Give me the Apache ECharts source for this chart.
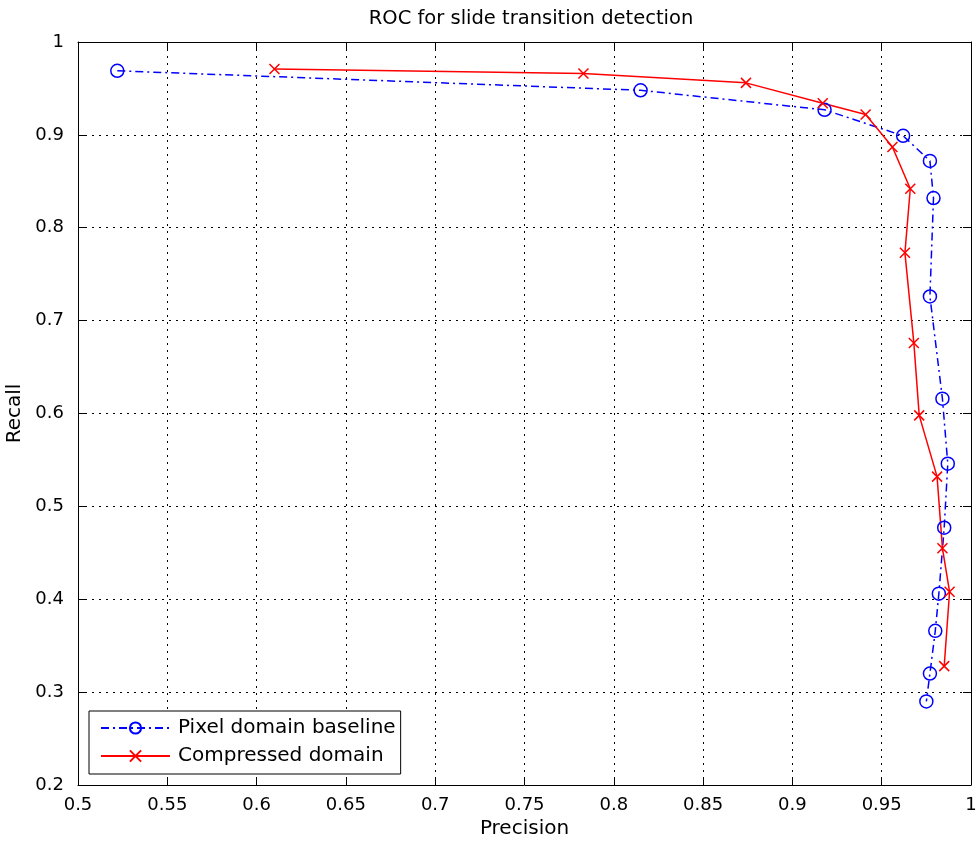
<!DOCTYPE html>
<html>
<head>
<meta charset="utf-8">
<script src="https://cdn.jsdelivr.net/npm/echarts@6/dist/echarts.min.js"></script>
<style>
  html, body { margin: 0; padding: 0; background: #fff; }
  #chart { width: 977px; height: 841px; }
</style>
</head>
<body>
<div id="chart"></div>
<script>
// values
const pixelPrecision = [0.522, 0.815, 0.918, 0.962, 0.977, 0.979, 0.977, 0.984, 0.987, 0.985, 0.982, 0.980, 0.977, 0.975];
const pixelRecall    = [0.969, 0.948, 0.927, 0.899, 0.872, 0.832, 0.726, 0.616, 0.546, 0.477, 0.406, 0.366, 0.320, 0.290];
const compPrecision  = [0.610, 0.783, 0.874, 0.917, 0.941, 0.956, 0.966, 0.963, 0.968, 0.971, 0.981, 0.984, 0.988, 0.985];
const compRecall     = [0.971, 0.966, 0.956, 0.934, 0.922, 0.887, 0.842, 0.773, 0.676, 0.598, 0.532, 0.455, 0.408, 0.328];
const seriesNames = ['Pixel domain baseline', 'Compressed domain'];

const zip = (xs, ys) => xs.map((x, i) => [x, ys[i]]);
const font = 'DejaVu Sans';
const crossPath = 'path://M0,0L10,10M0,10L10,0';

const chart = echarts.init(document.getElementById('chart'));

const axisBase = {
  type: 'value',
  axisLine: { show: true, onZero: false, lineStyle: { color: '#000', width: 1 } },
  axisTick: { show: true, inside: true, length: 8, lineStyle: { color: '#000' } },
  splitLine: { show: false }
};

chart.setOption({
  animation: false,
  backgroundColor: '#fff',
  title: {
    text: 'ROC for slide transition detection',
    left: 526, top: 4, textAlign: 'center',
    textStyle: { fontFamily: font, fontSize: 19.5, fontWeight: 'normal', color: '#000' }
  },
  grid: { left: 78, right: 6, top: 42, bottom: 56, containLabel: false, outerBoundsMode: 'none' },
  legend: {
    orient: 'vertical', left: 89, top: 711,
    padding: [7, 5, 8, 11], itemWidth: 69, itemHeight: 14, itemGap: 8,
    backgroundColor: '#fff', borderColor: '#000', borderWidth: 1,
    textStyle: { fontFamily: font, fontSize: 20, color: '#000', padding: [0, 0, 0, 3] },
    data: seriesNames
  },
  xAxis: [
    Object.assign({}, axisBase, {
      min: 0.5, max: 1, interval: 0.05, position: 'bottom',
      name: 'Precision', nameLocation: 'middle', nameGap: 34,
      nameTextStyle: { fontFamily: font, fontSize: 20, color: '#000' },
      axisLabel: { margin: 11, fontFamily: font, fontSize: 18, color: '#000' },
      splitLine: { show: true, lineStyle: { color: '#000', type: [2, 5], width: 1 } }
    }),
    Object.assign({}, axisBase, {
      min: 0.5, max: 1, interval: 0.05, position: 'top', axisLabel: { show: false }
    })
  ],
  yAxis: [
    Object.assign({}, axisBase, {
      min: 0.2, max: 1, interval: 0.1, position: 'left',
      name: 'Recall', nameLocation: 'middle', nameGap: 44,
      nameTextStyle: { fontFamily: font, fontSize: 20, color: '#000' },
      axisLabel: { margin: 14, fontFamily: font, fontSize: 18, color: '#000' },
      splitLine: { show: true, lineStyle: { color: '#000', type: [2, 5], width: 1 } }
    }),
    Object.assign({}, axisBase, {
      min: 0.2, max: 1, interval: 0.1, position: 'right', axisLabel: { show: false }
    })
  ],
  series: [
    {
      name: seriesNames[0], type: 'line',
      data: zip(pixelPrecision, pixelRecall),
      symbol: 'circle', symbolSize: 13, showSymbol: true, showAllSymbol: true,
      itemStyle: { color: 'rgba(0,0,0,0)', borderColor: '#0000ff', borderWidth: 1.5 },
      lineStyle: { color: '#0000ff', width: 1.5, type: [8, 4, 2, 4] },
      emphasis: { disabled: true }
    },
    {
      name: seriesNames[1], type: 'line',
      data: zip(compPrecision, compRecall),
      symbol: crossPath, symbolSize: 10, showSymbol: true, showAllSymbol: true,
      itemStyle: { color: 'rgba(0,0,0,0)', borderColor: '#ff0000', borderWidth: 1.5 },
      lineStyle: { color: '#ff0000', width: 1.5, type: 'solid' },
      emphasis: { disabled: true }
    }
  ]
});
</script>
</body>
</html>
